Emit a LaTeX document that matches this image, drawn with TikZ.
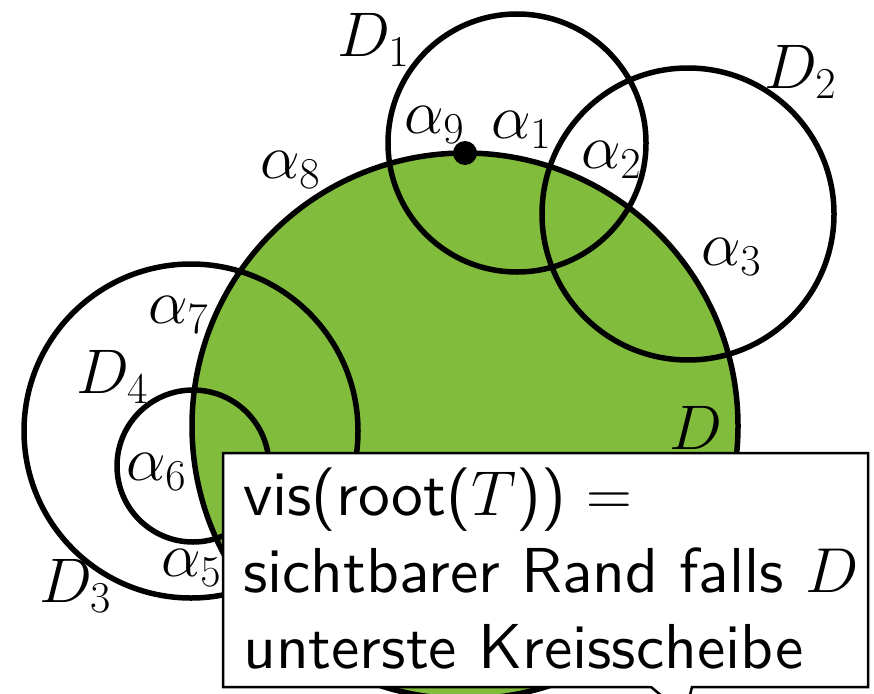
\RequirePackage{fix-cm}
\documentclass[tikz,border=0pt]{standalone}
\usepackage{fontspec}
\setsansfont{lmsans10-regular}[Extension=.otf]
\definecolor{dgreen}{RGB}{129,188,61}
\begin{document}
\begin{tikzpicture}[x=1pt,y=-1pt,
  circ/.style={line width=5.5pt},
  lab/.style={font=\fontsize{63}{75}\selectfont, inner sep=0pt},
  boxtext/.style={font=\fontsize{63.5}{76}\selectfont\sffamily, inner sep=0pt, anchor=base west},
  callbox/.style={line width=2.5pt, fill=white, line join=miter}]
\useasboundingbox (0,0) rectangle (874,693);
\clip (0,0) rectangle (874,693);
% main disk D
\coordinate (cD) at (465,426);
\fill[dgreen] (cD) circle[radius=273pt];
\draw[circ] (cD) circle[radius=273pt];
% D1, D2
\coordinate (c1) at (517,143);
\coordinate (c2) at (688,214);
\draw[circ] (c1) circle[radius=129pt];
\draw[circ] (c2) circle[radius=146pt];
% D3 (outer), D4 (inner)
\coordinate (c3) at (191,431);
\coordinate (c4) at (193,466);
\draw[circ] (c3) circle[radius=167pt];
\draw[circ] (c4) circle[radius=76pt];
% dot
\fill (465,153) circle[radius=12pt];
% labels
\node[lab] (lD1) at (373,40) {$D_1$};
\node[lab] (lD2) at (800,72) {$D_2$};
\node[lab] (la9) at (434,125) {$\alpha_9$};
\node[lab] (la1) at (521,130) {$\alpha_1$};
\node[lab] (la2) at (611,160) {$\alpha_2$};
\node[lab] (la8) at (290,170) {$\alpha_8$};
\node[lab] (la3) at (731,257) {$\alpha_3$};
\node[lab] (la7) at (178,315) {$\alpha_7$};
\node[lab] (lD4) at (112,377) {$D_4$};
\node[lab] (lD) at (696,428) {$D$};
\node[lab] (la6) at (156,472) {$\alpha_6$};
\node[lab] (la5) at (191,568) {$\alpha_5$};
\node[lab] (lD3) at (75,586) {$D_3$};
% callout box
\draw[callbox] (223,453) -- (868,453) -- (868,687) -- (692,687) -- (685,715) -- (651,687) -- (223,687) -- cycle;
\node[boxtext] (t1) at (243,515) {vis(root($T$)) $=$};
\node[boxtext] (t2) at (243,592) {sichtbarer Rand falls $D$};
\node[boxtext] (t3) at (243,668) {unterste Kreisscheibe};
\end{tikzpicture}
\end{document}
